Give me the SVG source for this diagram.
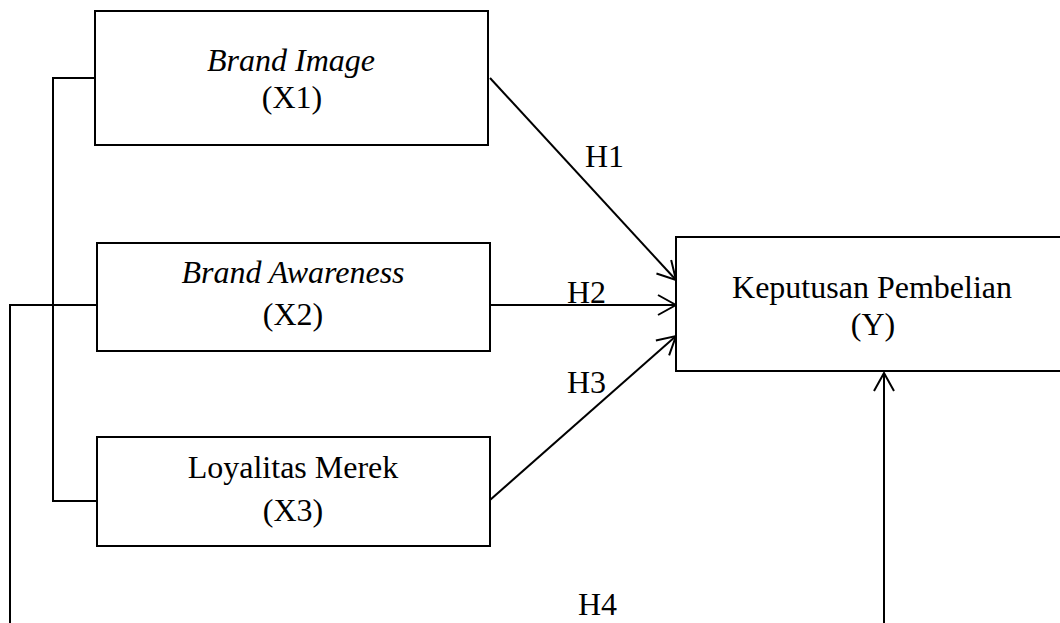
<svg xmlns="http://www.w3.org/2000/svg" width="1060" height="623" viewBox="0 0 1060 623">
<style>
.box{fill:#fff;stroke:#000;stroke-width:2}
.t{font-family:"Liberation Serif","Times New Roman",serif;font-size:32px;fill:#000;text-anchor:middle}
.i{font-style:italic}
.h{font-family:"Liberation Serif","Times New Roman",serif;font-size:32px;fill:#000}
.c{fill:none;stroke:#000;stroke-width:2}
</style>
<defs>
<marker id="arr" viewBox="0 0 20 22" refX="19" refY="11" markerWidth="20" markerHeight="22" markerUnits="userSpaceOnUse" orient="auto">
<path d="M1,1 L19,11 L1,21" fill="none" stroke="#000" stroke-width="2"/>
</marker>
</defs>
<rect width="1060" height="623" fill="#fff"/>
<g id="connectors">
<polyline class="c" points="95,78 53,78 53,501 97,501"/>
<polyline class="c" points="97,305 10,305 10,623"/>
<line class="c" x1="490" y1="78" x2="676" y2="280" marker-end="url(#arr)"/>
<line class="c" x1="490" y1="305" x2="676" y2="305" marker-end="url(#arr)"/>
<line class="c" x1="490" y1="500" x2="676" y2="336" marker-end="url(#arr)"/>
<line class="c" x1="884" y1="623" x2="884" y2="373" marker-end="url(#arr)"/>
<text class="h" x="585" y="167">H1</text>
<text class="h" x="567" y="303">H2</text>
<text class="h" x="567" y="393">H3</text>
<text class="h" x="578" y="615">H4</text>
</g>
<g id="x1">
<rect class="box" x="95" y="11" width="393" height="134"/>
<text class="t i" x="291" y="71">Brand Image</text>
<text class="t" x="292" y="108">(X1)</text>
</g>
<g id="x2">
<rect class="box" x="97" y="243" width="393" height="108"/>
<text class="t i" x="293" y="283">Brand Awareness</text>
<text class="t" x="293" y="325">(X2)</text>
</g>
<g id="x3">
<rect class="box" x="97" y="437" width="393" height="109"/>
<text class="t" x="293" y="478">Loyalitas Merek</text>
<text class="t" x="293" y="521">(X3)</text>
</g>
<g id="y">
<rect class="box" x="676" y="237" width="400" height="134"/>
<text class="t" x="872" y="298">Keputusan Pembelian</text>
<text class="t" x="873" y="335">(Y)</text>
</g>
</svg>
